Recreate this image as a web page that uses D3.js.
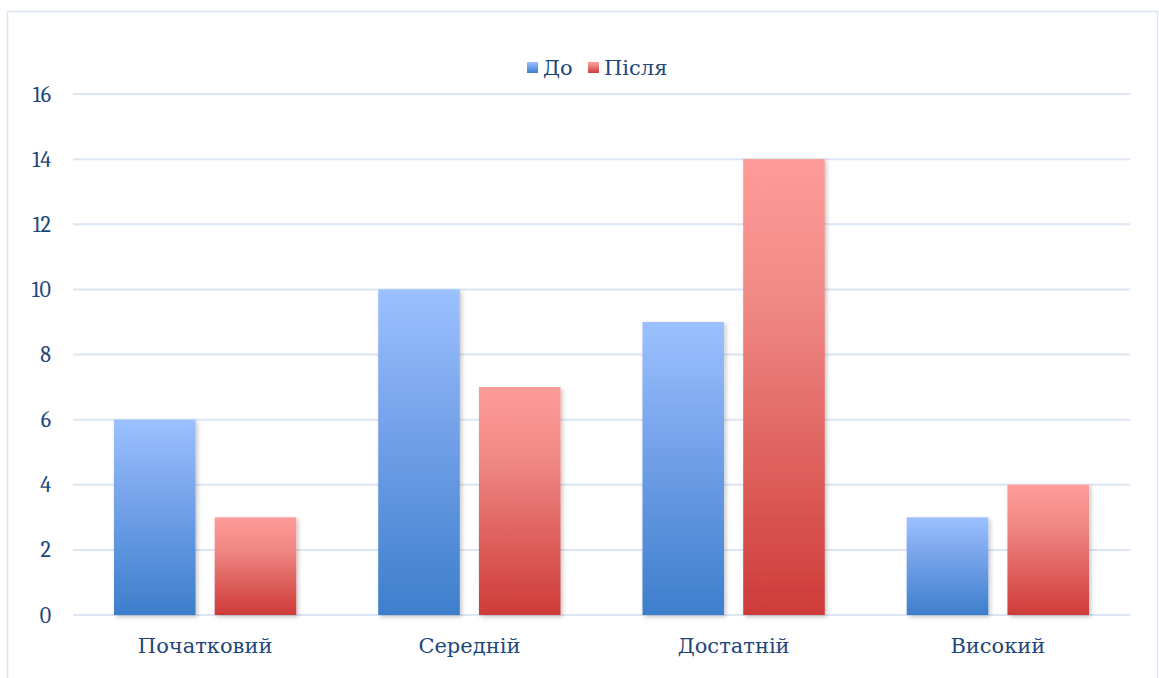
<!DOCTYPE html>
<html><head><meta charset="utf-8">
<script src="https://cdn.jsdelivr.net/npm/d3@7"></script>
<style>html,body{margin:0;padding:0;background:#fff;}svg{display:block;}</style>
</head><body>
<svg id="c" width="1159" height="678"></svg>
<script>
const categories = ["Початковий", "Середній", "Достатній", "Високий"];
const seriesNames = ["До", "Після"];
const before = [6, 10, 9, 3];
const after = [3, 7, 14, 4];
const yTicks = [0, 2, 4, 6, 8, 10, 12, 14, 16];

const W = 1159, H = 678;
const margin = {left: 73, right: 29, top: 94, bottom: 63};
const svg = d3.select("#c");
const font = "Cambria, 'DejaVu Serif', serif";
const textColor = "#1F477A";

const defs = svg.append("defs");
const grads = [
  {id: "gBlue", top: "#9CC1FF", mid: "#80AAF0", bot: "#3D7ECC"},
  {id: "gRed", top: "#FF9B99", mid: "#F08A86", bot: "#CE3B39"}
];
grads.forEach(g => {
  const lg = defs.append("linearGradient").attr("id", g.id).attr("x1", 0).attr("y1", 0).attr("x2", 0).attr("y2", 1);
  lg.append("stop").attr("offset", "0%").attr("stop-color", g.top);
  lg.append("stop").attr("offset", "30%").attr("stop-color", g.mid);
  lg.append("stop").attr("offset", "100%").attr("stop-color", g.bot);
});
const f = defs.append("filter").attr("id", "sh").attr("x", "-10%").attr("y", "-5%").attr("width", "130%").attr("height", "115%");
f.append("feDropShadow").attr("dx", 2).attr("dy", 2).attr("stdDeviation", 2).attr("flood-color", "#000").attr("flood-opacity", 0.22);

// outer border
svg.append("rect").attr("x", 7.5).attr("y", 11.5).attr("width", W - 9).attr("height", H)
  .attr("fill", "none").attr("stroke", "#D9E4F4").attr("stroke-width", 1.5);

const x0 = d3.scaleBand().domain(categories).range([margin.left, W - margin.right]).paddingInner(0.31).paddingOuter(0.155);
const x1 = d3.scaleBand().domain(seriesNames).range([0, x0.bandwidth()]).paddingInner(0.19);
const y = d3.scaleLinear().domain([0, 16]).range([H - margin.bottom, margin.top]);

// gridlines
svg.append("g").selectAll("line").data(yTicks).join("line")
  .attr("x1", margin.left).attr("x2", W - margin.right)
  .attr("y1", d => y(d)).attr("y2", d => y(d))
  .attr("stroke", "#DCE6F4").attr("stroke-width", 2);

// y axis labels
const yAxis = d3.axisLeft(y).tickValues(yTicks).tickSize(0).tickPadding(0);
const ga = svg.append("g").attr("transform", `translate(51,0)`).call(yAxis);
ga.select(".domain").remove();
ga.attr("font-size", null).attr("font-family", null);
ga.selectAll("text").style("font-family", font).style("font-size", "22px").style("fill", textColor);

// x axis labels
const xAxis = d3.axisBottom(x0).tickSize(0).tickPadding(0);
const gx = svg.append("g").attr("transform", `translate(0,${H - margin.bottom + 23})`).call(xAxis);
gx.select(".domain").remove();
gx.attr("font-size", null).attr("font-family", null);
gx.selectAll("text").style("font-family", font).style("font-size", "21px").style("fill", textColor);

// bars
const data = categories.map((c, i) => ({c, vals: [before[i], after[i]]}));
const groups = svg.append("g").selectAll("g").data(data).join("g")
  .attr("transform", d => `translate(${x0(d.c)},0)`);
groups.selectAll("rect").data(d => d.vals.map((v, j) => ({s: seriesNames[j], v, j}))).join("rect")
  .attr("x", d => x1(d.s)).attr("width", x1.bandwidth())
  .attr("y", d => y(d.v)).attr("height", d => y(0) - y(d.v))
  .attr("fill", d => `url(#${grads[d.j].id})`).attr("filter", "url(#sh)");

// legend
const leg = svg.append("g").attr("transform", "translate(527,62)");
const items = [{n: seriesNames[0], x: 0}, {n: seriesNames[1], x: 61}];
items.forEach((it, i) => {
  leg.append("rect").attr("x", it.x).attr("y", 0).attr("width", 11).attr("height", 11).attr("fill", `url(#${grads[i].id})`);
  leg.append("text").attr("x", it.x + 16).attr("y", 13).style("font-family", font).style("font-size", "21px").style("fill", textColor).text(it.n);
});
</script>
</body></html>
